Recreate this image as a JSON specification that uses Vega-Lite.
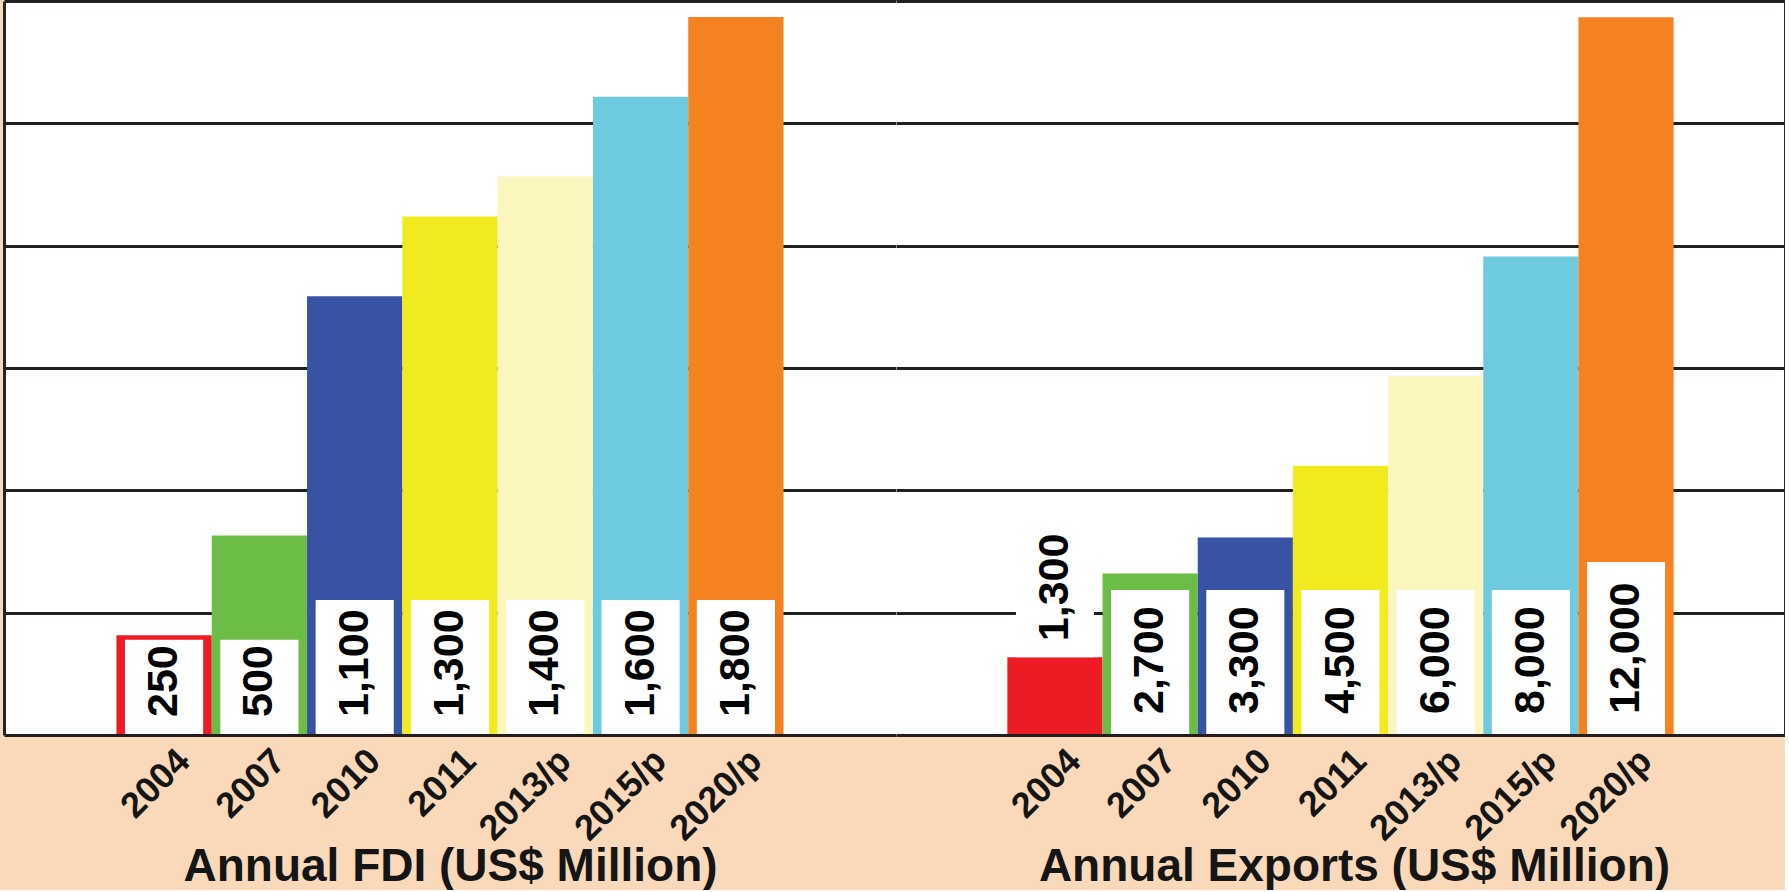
{
  "$schema": "https://vega.github.io/schema/vega-lite/v6.json",
  "padding": {"left": 4, "top": 1, "right": 0, "bottom": 0},
  "background": "#f9d9ba",
  "spacing": 0,
  "datasets": {
    "fdi": [
      {"year": "2004", "value": 250},
      {"year": "2007", "value": 500},
      {"year": "2010", "value": 1100},
      {"year": "2011", "value": 1300},
      {"year": "2013/p", "value": 1400},
      {"year": "2015/p", "value": 1600},
      {"year": "2020/p", "value": 1800}
    ],
    "exports": [
      {"year": "2004", "value": 1300},
      {"year": "2007", "value": 2700},
      {"year": "2010", "value": 3300},
      {"year": "2011", "value": 4500},
      {"year": "2013/p", "value": 6000},
      {"year": "2015/p", "value": 8000},
      {"year": "2020/p", "value": 12000}
    ]
  },
  "config": {
    "view": {"fill": "white", "stroke": null},
    "axis": {"labelFont": "Liberation Sans", "titleFont": "Liberation Sans"}
  },
  "hconcat": [
    {
      "width": 892,
      "height": 734,
      "data": {"name": "fdi"},
      "encoding": {
        "x": {
          "field": "year", "type": "nominal", "sort": null,
          "scale": {
            "domain": ["l", "2004", "2007", "2010", "2011", "2013/p", "2015/p", "2020/p", "r"],
            "paddingInner": 0, "paddingOuter": 0.18
          },
          "axis": {
            "title": "Annual FDI (US$ Million)", "labelAngle": -45, "labelFontSize": 36,
            "labelExpr": "length(datum.label) > 1 ? datum.label : ''",
            "labelFontWeight": "bold", "labelColor": "#151515", "labelPadding": 8, "labelOffset": 8,
            "ticks": false, "domainColor": "#231f20", "domainWidth": 3,
            "titleFontSize": 46, "titleFontWeight": "bold", "titleColor": "#151515", "titlePadding": -2, "zindex": 1
          }
        }
      },
      "layer": [
        {
          "mark": {"type": "bar"},
          "encoding": {
            "y": {
              "field": "value", "type": "quantitative",
              "scale": {"domain": [0, 1840], "nice": false},
              "axis": {
                "title": null, "labels": false, "ticks": false, "domain": true,
                "domainColor": "#2b2420", "domainWidth": 3, "grid": true, "gridColor": "#231f20", "gridWidth": 3,
                "values": [306.67, 613.33, 920, 1226.67, 1533.33, 1840], "minExtent": 0, "maxExtent": 0
              }
            },
            "color": {
              "field": "year", "type": "nominal", "legend": null,
              "scale": {
                "domain": ["2004", "2007", "2010", "2011", "2013/p", "2015/p", "2020/p"],
                "range": ["#ed1c24", "#6cbd45", "#3953a4", "#f1ea1e", "#faf6be", "#6dcadf", "#f58220"]
              }
            }
          }
        },
        {
          "transform": [{"filter": "datum.value < 1000"}],
          "mark": {"type": "bar", "color": "white", "width": {"band": 0.82}, "yOffset": -5},
          "encoding": {"y": {"datum": 226}, "y2": {"datum": 0}}
        },
        {
          "transform": [{"filter": "datum.value >= 1000"}],
          "mark": {"type": "bar", "color": "white", "width": {"band": 0.82}, "yOffset": -5},
          "encoding": {"y": {"datum": 326}, "y2": {"datum": 0}}
        },
        {
          "mark": {
            "type": "text", "angle": 270, "align": "left", "baseline": "middle",
            "font": "Liberation Sans", "fontWeight": "bold",
            "fontSize": 43, "yOffset": -18, "color": "#000000"
          },
          "encoding": {
            "y": {"datum": 0},
            "text": {"field": "value", "type": "quantitative", "format": ","}
          }
        }
      ]
    },
    {
      "width": 889,
      "height": 734,
      "data": {"name": "exports"},
      "encoding": {
        "x": {
          "field": "year", "type": "nominal", "sort": null,
          "scale": {
            "domain": ["l", "2004", "2007", "2010", "2011", "2013/p", "2015/p", "2020/p", "r"],
            "paddingInner": 0, "paddingOuter": 0.17
          },
          "axis": {
            "title": "Annual Exports (US$ Million)", "labelAngle": -45, "labelFontSize": 36,
            "labelExpr": "length(datum.label) > 1 ? datum.label : ''",
            "labelFontWeight": "bold", "labelColor": "#151515", "labelPadding": 8, "labelOffset": 8,
            "ticks": false, "domainColor": "#231f20", "domainWidth": 3,
            "titleFontSize": 46, "titleFontWeight": "bold", "titleColor": "#151515", "titlePadding": -2,
            "titleX": 458, "titleAlign": "center", "zindex": 1
          }
        }
      },
      "layer": [
        {
          "mark": {"type": "bar"},
          "encoding": {
            "y": {
              "field": "value", "type": "quantitative",
              "scale": {"domain": [0, 12270], "nice": false},
              "axis": {
                "orient": "right", "title": null, "labels": false, "ticks": false, "domain": true,
                "domainColor": "#2b2420", "domainWidth": 3, "grid": true, "gridColor": "#231f20", "gridWidth": 3,
                "values": [2045, 4090, 6135, 8180, 10225, 12270], "minExtent": 0, "maxExtent": 0
              }
            },
            "color": {
              "field": "year", "type": "nominal", "legend": null,
              "scale": {
                "domain": ["2004", "2007", "2010", "2011", "2013/p", "2015/p", "2020/p"],
                "range": ["#ed1c24", "#6cbd45", "#3953a4", "#f1ea1e", "#faf6be", "#6dcadf", "#f58220"]
              }
            }
          }
        },
        {
          "transform": [{"filter": "datum.year != '2004' && datum.value < 10000"}],
          "mark": {"type": "bar", "color": "white", "width": {"band": 0.82}, "yOffset": -5},
          "encoding": {"y": {"datum": 2340}, "y2": {"datum": 0}}
        },
        {
          "transform": [{"filter": "datum.value >= 10000"}],
          "mark": {"type": "bar", "color": "white", "width": {"band": 0.82}, "yOffset": -5},
          "encoding": {"y": {"datum": 2808}, "y2": {"datum": 0}}
        },
        {
          "transform": [{"filter": "datum.year == '2004'"}],
          "mark": {"type": "bar", "color": "white", "width": {"band": 0.82}},
          "encoding": {"y": {"field": "value", "type": "quantitative"}, "y2": {"datum": 3440}}
        },
        {
          "transform": [{"filter": "datum.year != '2004'"}],
          "mark": {
            "type": "text", "angle": 270, "align": "left", "baseline": "middle",
            "font": "Liberation Sans", "fontWeight": "bold",
            "fontSize": 43, "yOffset": -21, "color": "#000000"
          },
          "encoding": {
            "y": {"datum": 0},
            "text": {"field": "value", "type": "quantitative", "format": ","}
          }
        },
        {
          "transform": [{"filter": "datum.year == '2004'"}],
          "mark": {
            "type": "text", "angle": 270, "align": "left", "baseline": "middle",
            "font": "Liberation Sans", "fontWeight": "bold",
            "fontSize": 43, "yOffset": -16, "color": "#000000"
          },
          "encoding": {
            "y": {"field": "value", "type": "quantitative"},
            "text": {"field": "value", "type": "quantitative", "format": ","}
          }
        }
      ]
    }
  ]
}
